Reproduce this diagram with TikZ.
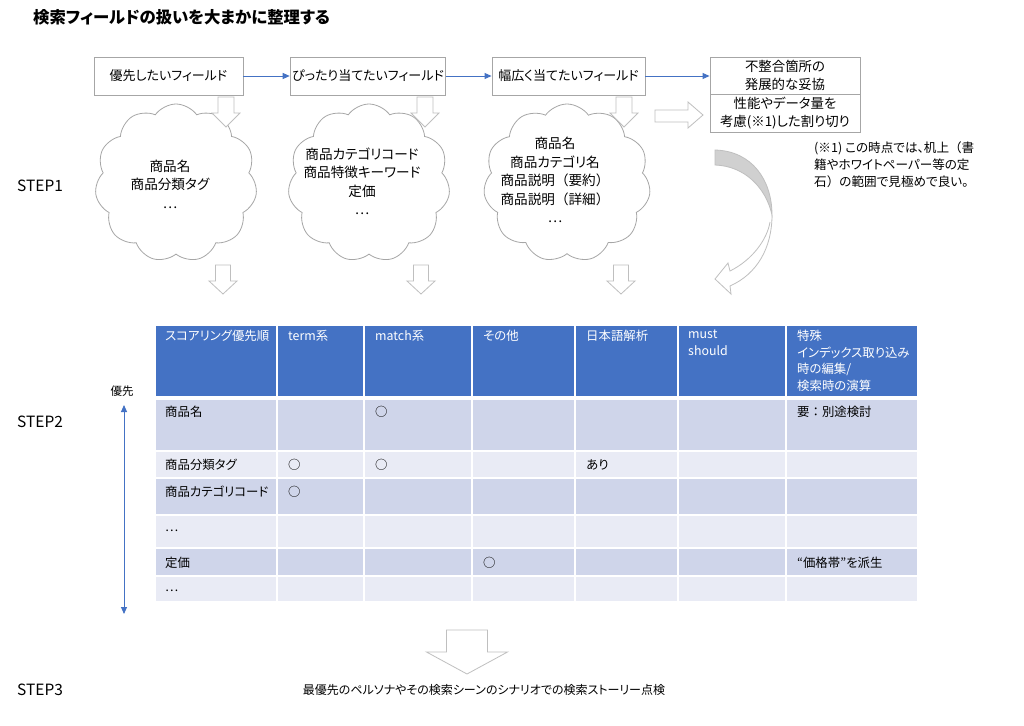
\documentclass[tikz,border=0pt]{standalone}
\usepackage{fontspec}
\setmainfont{Noto Sans CJK JP}[RawFeature=+palt]
\newfontfamily\widefont{Noto Sans CJK JP}
\usetikzlibrary{shapes.symbols,arrows.meta}
\definecolor{blu}{HTML}{4472C4}
\definecolor{rowA}{HTML}{CFD5EA}
\definecolor{rowB}{HTML}{E9EBF5}
\definecolor{boxline}{HTML}{A6A6A6}
\definecolor{arrline}{HTML}{BFBFBF}
\definecolor{curvfill}{HTML}{D0D0D0}
\newcommand\fs[2]{\fontsize{#1}{#2}\selectfont}
\newcommand\wlp{{\widefont （}}
\newcommand\wrp{{\widefont ）}}
\newcommand\hdown[6]{%
  \draw[harrow] (#1-#5,#2) -- (#1+#5,#2) -- (#1+#5,#3) -- (#1+#6,#3) -- (#1,#4) -- (#1-#6,#3) -- (#1-#5,#3) -- cycle;}
\begin{document}
\begin{tikzpicture}[x=1pt,y=-1pt,
  fbox/.style={draw=boxline, line width=0.9pt, fill=white, minimum height=38pt, inner sep=2pt, font=\fs{13}{17}},
  barrow/.style={draw=blu, line width=0.9pt, -{Triangle[length=7pt,width=6pt]}},
  cloudst/.style={cloud, cloud puffs=11, cloud puff arc=110, draw=boxline, line width=0.8pt, fill=white, inner sep=0pt},
  ctext/.style={align=center, font=\fs{13.6}{18.5}, inner sep=0pt},
  harrow/.style={draw=arrline, line width=0.8pt, fill=white, line join=miter},
  hdr/.style={fill=blu, draw=white, line width=1.5pt},
  htxt/.style={anchor=north west, align=left, text=white, font=\fs{12.4}{16.5}, inner sep=0pt},
  ttxt/.style={anchor=west, font=\fs{12.4}{16}, inner sep=0pt},
  steplabel/.style={anchor=west, inner sep=0pt, font=\fs{15.5}{18}}]
\useasboundingbox[fill=white] (0,0) rectangle (1024,725);

% title
\node[anchor=west, inner sep=0pt, font=\bfseries\fs{16.4}{19}] (title) at (33,17) {検索フィールドの扱いを大まかに整理する};

% step labels
\node[steplabel] (s1) at (17,186) {STEP1};
\node[steplabel] (s2) at (17,422) {STEP2};
\node[steplabel] (s3) at (17,690) {STEP3};

% top boxes
\node[fbox, minimum width=149pt] (b1) at (168.5,76) {優先したいフィールド};
\node[fbox, minimum width=152pt] (b2) at (368,76) {ぴったり当てたいフィールド};
\node[fbox, minimum width=153pt] (b3) at (568.5,76) {幅広く当てたいフィールド};
\node[fbox, minimum width=150pt, minimum height=37pt, align=center, font=\fs{13.4}{17.5}] (b4a) at (785,75.5) {不整合箇所の\\発展的な妥協};
\node[fbox, minimum width=150pt, minimum height=38pt, align=center, font=\fs{13.4}{17.5}] (b4b) at (785,113) {性能やデータ量を\\考慮(※1)した割り切り};
\draw[barrow] (b1) -- (b2);
\draw[barrow] (b2) -- (b3);
\draw[barrow] (b3.east) -- (b4a.west |- b3.east);

% clouds
\node[cloudst, minimum width=162pt, minimum height=158pt] (c1) at (176,183) {};
\node[cloudst, minimum width=162pt, minimum height=158pt] (c2) at (369,183) {};
\node[cloudst, minimum width=167pt, minimum height=158pt] (c3) at (567,183) {};
\node[ctext] (t1) at (170,184) {商品名\\商品分類タグ\\…};
\node[ctext] (t2) at (362,181.5) {商品カテゴリコード\\商品特徴キーワード\\定価\\…};
\node[ctext] (t3) at (555,180) {商品名\\商品カテゴリ名\\商品説明\wlp 要約\wrp\\商品説明\wlp 詳細\wrp\\…};

% small hollow arrows
\hdown{226}{97}{113}{127}{8}{14}
\hdown{425}{97}{113}{127}{8}{14}
\hdown{624}{97}{113}{127}{8}{14}
\hdown{223}{265}{281}{294}{7.5}{14}
\hdown{421}{265}{281}{294}{7.5}{14}
\hdown{621}{265}{281}{294}{7.5}{14}
\draw[harrow] (655,110) -- (688,110) -- (688,102) -- (703,115) -- (688,128) -- (688,122) -- (655,122) -- cycle;

% curved arrow
\draw[draw=arrline, line width=0.8pt, fill=curvfill] (715,150) .. controls (752,151) and (772,180) .. (772,215) .. controls (766,188) and (745,166) .. (715,165) -- cycle;
\draw[harrow] (772,215) .. controls (772,248) and (757,274) .. (730,286) -- (731,294) -- (715,279) -- (728,263) -- (730,271) .. controls (752,260) and (767,240) .. (770,222);

% note
\node[anchor=north west, align=left, inner sep=0pt, font=\fs{12.6}{17}] (note) at (814,142) {(※1) この時点では、机上\wlp 書\\籍やホワイトペーパー等の定\\石\wrp の範囲で見極めで良い。};

% priority arrow
\node[inner sep=0pt, font=\fs{11.5}{13}] (prio) at (122,391) {優先};
\coordinate (pt) at (124,405);
\coordinate (pb) at (124,614);
\draw[draw=blu, line width=0.9pt, {Triangle[length=7pt,width=6pt]}-{Triangle[length=7pt,width=6pt]}] (pt) -- (pb);

% table
\foreach \xa/\xb in {155/277,277/364,364/472,472/575,575/678,678/786,786/918} {
  \filldraw[hdr] (\xa,325) rectangle (\xb,397);
  \foreach \ya/\yb/\cl in {399.5/451/rowA, 451/478/rowB, 478/515/rowA, 515/548/rowB, 548/576/rowA, 576/602/rowB}
    \filldraw[fill=\cl, draw=white, line width=1.5pt] (\xa,\ya) rectangle (\xb,\yb);
}
\node[htxt] (h1) at (165,330) {スコアリング優先順};
\node[htxt] (h2) at (288,330) {term系};
\node[htxt] (h3) at (375,330) {match系};
\node[htxt] (h4) at (483,330) {その他};
\node[htxt] (h5) at (586,330) {日本語解析};
\node[htxt] (h6) at (688,330) {must\\should};
\node[htxt] (h7) at (797,330) {特殊\\インデックス取り込み\\時の編集/\\検索時の演算};

\node[ttxt] (r1) at (165,412) {商品名};
\node[ttxt] (r1m) at (375,412) {○};
\node[ttxt] (r1s) at (797,412) {要{\widefont ：}別途検討};
\node[ttxt] (r2) at (165,465) {商品分類タグ};
\node[ttxt] (r2t) at (288,465) {○};
\node[ttxt] (r2m) at (375,465) {○};
\node[ttxt] (r2j) at (586,465) {あり};
\node[ttxt] (r3) at (165,492) {商品カテゴリコード};
\node[ttxt] (r3t) at (288,492) {○};
\node[ttxt] (r4) at (165,531) {…};
\node[ttxt] (r5) at (165,563) {定価};
\node[ttxt] (r5o) at (483,563) {○};
\node[ttxt] (r5s) at (797,563) {“価格帯”を派生};
\node[ttxt] (r6) at (165,591) {…};

% step3 arrow and text
\hdown{467}{630}{652}{674}{20.5}{40.5}
\node[inner sep=0pt, font=\fs{12}{14}] (s3t) at (484,690) {最優先のペルソナやその検索シーンのシナリオでの検索ストーリー点検};
\end{tikzpicture}
\end{document}
